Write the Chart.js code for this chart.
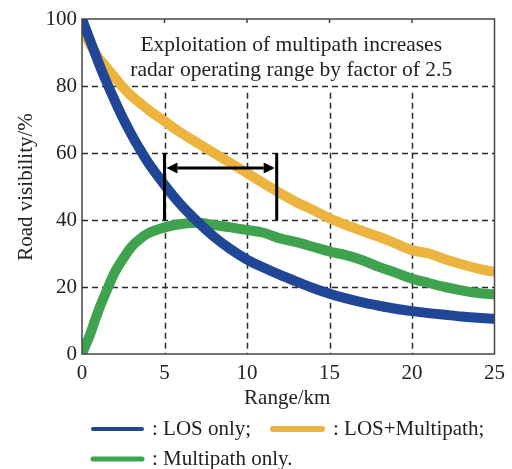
<!DOCTYPE html>
<html>
<head>
<meta charset="utf-8">
<script src="https://cdn.jsdelivr.net/npm/chart.js@4/dist/chart.umd.min.js"></script>
<style>
  html, body { margin: 0; padding: 0; background: #ffffff; }
  #wrap { width: 512px; height: 469px; position: relative; }
  canvas { display: block; }
</style>
</head>
<body>
<div id="wrap"><canvas id="c" width="512" height="469"></canvas></div>
<script>
// ---- Data ----
const rangeKm = [0, 0.5, 1, 1.5, 2, 2.5, 3, 3.5, 4, 5, 6, 7, 8, 9, 10, 11, 12, 13, 14, 15, 16, 17, 18, 19, 20, 21, 22, 23, 24, 25];
const losOnly = [100, 93.5, 87, 81, 75.5, 70.2, 65.5, 61.2, 57.2, 50.5, 44.5, 39.5, 35, 31.3, 28.2, 25.8, 23.6, 21.6, 19.7, 18, 16.6, 15.4, 14.4, 13.5, 12.8, 12.2, 11.7, 11.2, 10.8, 10.5];
const losMultipath = [97, 92.5, 88.5, 85.5, 82.5, 79.5, 77, 75, 73, 69.5, 66, 63, 60, 57, 54, 51, 48, 45.3, 43, 40.5, 38.5, 36.7, 35, 33, 31, 30, 28.3, 26.8, 25.5, 24.5];
const multipathOnly = [0, 6, 13, 19, 24.5, 28.5, 32, 34.3, 36, 37.8, 38.8, 39.2, 38.5, 37.8, 37, 36.2, 34.5, 33.4, 32, 30.6, 29.5, 28, 26, 24.3, 22.5, 21.2, 20, 19, 18.2, 17.8];

const seriesLabels = [': LOS only;', ': LOS+Multipath;', ': Multipath only.'];
const xTickValues = [0, 5, 10, 15, 20, 25];
const yTickValues = [0, 20, 40, 60, 80, 100];
const gridX = [5, 10, 15, 20];
const gridY = [20, 40, 60, 80];
const gridXTop = 78;            // vertical grid lines stop below the note
const arrowSpan = [5, 11.8];    // km: operating range LOS vs LOS+multipath
const arrowLevel = 55.5;        // %
const barSpan = [40, 60];       // % extent of the two end bars
const noteLines = ['Exploitation of multipath increases', 'radar operating range by factor of 2.5'];
const xTitle = 'Range/km';
const yTitle = 'Road visibility/%';

const COLORS = ['#1f4796', '#ecb43f', '#3fa24f'];
const FONT = '"Liberation Serif", "Times New Roman", serif';

const toPts = (ys) => ys.map((y, i) => ({ x: rangeKm[i], y }));

const decor = {
  id: 'decor',
  beforeDatasetsDraw(chart) {
    const { ctx, chartArea: a, scales: { x, y } } = chart;
    ctx.save();
    ctx.strokeStyle = '#2b2b2b';
    ctx.lineWidth = 1.5;
    ctx.setLineDash([6, 4]);
    gridY.forEach(v => {
      const py = Math.round(y.getPixelForValue(v)) + 0.5;
      ctx.beginPath(); ctx.moveTo(a.left, py); ctx.lineTo(a.right, py); ctx.stroke();
    });
    gridX.forEach(v => {
      const px = Math.round(x.getPixelForValue(v)) + 0.5;
      ctx.beginPath(); ctx.moveTo(px, y.getPixelForValue(gridXTop)); ctx.lineTo(px, a.bottom); ctx.stroke();
    });
    ctx.setLineDash([]);
    // note text
    ctx.fillStyle = '#222';
    ctx.font = '21.5px ' + FONT;
    ctx.textAlign = 'center';
    ctx.textBaseline = 'middle';
    const cx = (a.left + a.right) / 2 + 3;
    ctx.fillText(noteLines[0], cx, 45);
    ctx.fillText(noteLines[1], cx, 70);
    ctx.restore();
  },
  afterDatasetsDraw(chart) {
    const { ctx, chartArea: a, scales: { x, y } } = chart;
    ctx.save();
    // frame
    ctx.strokeStyle = '#444';
    ctx.lineWidth = 1.5;
    ctx.strokeRect(a.left, a.top, a.right - a.left, a.bottom - a.top);
    // small top ticks
    gridX.forEach(v => {
      const px = x.getPixelForValue(v);
      ctx.beginPath(); ctx.moveTo(px, a.top); ctx.lineTo(px, a.top + 4); ctx.stroke();
    });
    // range arrow
    ctx.strokeStyle = '#000';
    ctx.fillStyle = '#000';
    ctx.lineWidth = 3;
    const x1 = x.getPixelForValue(arrowSpan[0]);
    const x2 = x.getPixelForValue(arrowSpan[1]);
    const yb1 = y.getPixelForValue(barSpan[1]);
    const yb2 = y.getPixelForValue(barSpan[0]);
    const ya = y.getPixelForValue(arrowLevel);
    [x1, x2].forEach(px => {
      ctx.beginPath(); ctx.moveTo(px, yb1); ctx.lineTo(px, yb2); ctx.stroke();
    });
    const head = 11, hw = 5.5;
    ctx.beginPath(); ctx.moveTo(x1 + 2 + head, ya); ctx.lineTo(x2 - 2 - head, ya); ctx.stroke();
    ctx.beginPath(); ctx.moveTo(x1 + 2, ya); ctx.lineTo(x1 + 2 + head, ya - hw); ctx.lineTo(x1 + 2 + head, ya + hw); ctx.closePath(); ctx.fill();
    ctx.beginPath(); ctx.moveTo(x2 - 2, ya); ctx.lineTo(x2 - 2 - head, ya - hw); ctx.lineTo(x2 - 2 - head, ya + hw); ctx.closePath(); ctx.fill();

    // axis titles
    ctx.fillStyle = '#222';
    ctx.font = '21px ' + FONT;
    ctx.textAlign = 'center';
    ctx.textBaseline = 'middle';
    ctx.fillText(xTitle, (a.left + a.right) / 2 - 1, 398);
    ctx.save();
    ctx.translate(26, 187);
    ctx.rotate(-Math.PI / 2);
    ctx.fillText(yTitle, 0, 0);
    ctx.restore();

    // legend
    const ds = chart.data.datasets;
    const items = [
      { i: 0, sx: 93, tx: 152, yy: 429, w: 4 },
      { i: 1, sx: 273, tx: 333, yy: 429, w: 6 },
      { i: 2, sx: 93, tx: 152, yy: 459, w: 5 }
    ];
    ctx.textAlign = 'left';
    items.forEach(it => {
      ctx.strokeStyle = ds[it.i].borderColor;
      ctx.lineWidth = it.w;
      ctx.lineCap = 'round';
      ctx.beginPath(); ctx.moveTo(it.sx, it.yy); ctx.lineTo(it.sx + 49, it.yy); ctx.stroke();
      ctx.fillStyle = '#222';
      ctx.fillText(ds[it.i].label, it.tx, it.yy);
    });
    ctx.restore();
  }
};

new Chart(document.getElementById('c'), {
  type: 'line',
  data: {
    datasets: [
      { label: seriesLabels[0], data: toPts(losOnly), borderColor: COLORS[0] },
      { label: seriesLabels[1], data: toPts(losMultipath), borderColor: COLORS[1] },
      { label: seriesLabels[2], data: toPts(multipathOnly), borderColor: COLORS[2] }
    ]
  },
  options: {
    responsive: false,
    animation: false,
    devicePixelRatio: 1,
    layout: { padding: { top: 19, right: 15, left: 0, bottom: 0 } },
    elements: {
      line: { borderWidth: 10, cubicInterpolationMode: 'monotone', fill: false, borderJoinStyle: 'round' },
      point: { radius: 0, hoverRadius: 0 }
    },
    datasets: { line: { clip: 0 } },
    plugins: { legend: { display: false }, tooltip: { enabled: false } },
    scales: {
      x: {
        type: 'linear', min: 0, max: 25,
        afterBuildTicks: s => { s.ticks = xTickValues.map(v => ({ value: v })); },
        afterFit: s => { s.height = 115; },
        grid: { display: false, drawTicks: false },
        border: { display: false },
        ticks: { padding: 7, color: '#222', font: { family: FONT, size: 21 }, maxRotation: 0 }
      },
      y: {
        min: 0, max: 100,
        afterBuildTicks: s => { s.ticks = yTickValues.map(v => ({ value: v })); },
        afterFit: s => { s.width = 82; },
        grid: { display: false, drawTicks: false },
        border: { display: false },
        ticks: { padding: 5, color: '#222', font: { family: FONT, size: 21 } }
      }
    }
  },
  plugins: [decor]
});
</script>
</body>
</html>
